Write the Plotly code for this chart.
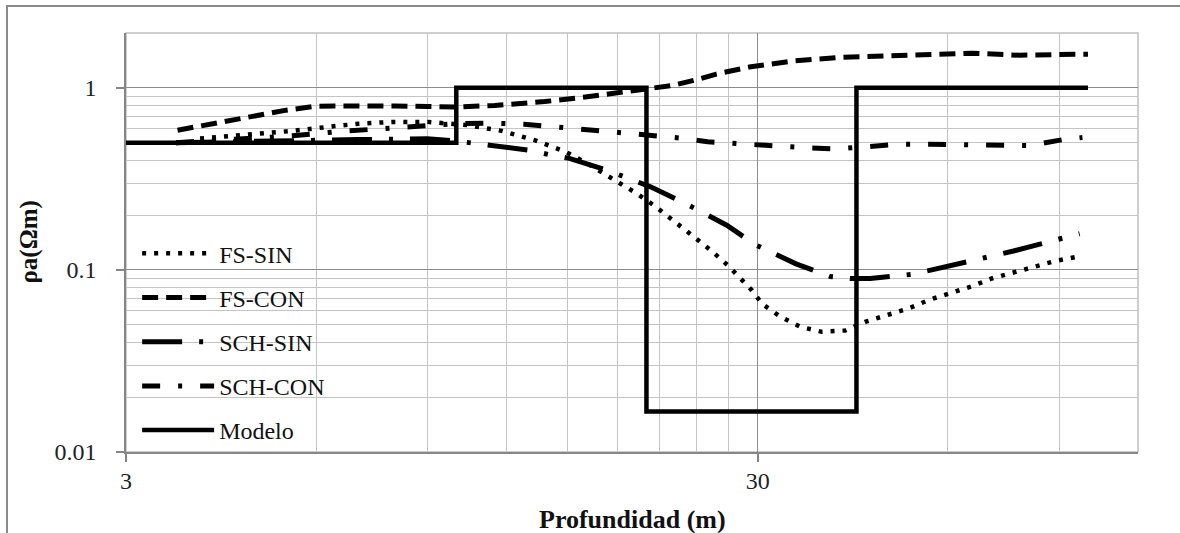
import plotly.graph_objects as go

# ---------------- data ----------------
fs_sin_x = [3.93, 4.66, 5.51, 6.26, 7.0, 7.93, 9.0, 10.4, 11.8, 13.3, 14.9, 16.0, 17.9, 19.3,
            20.7, 22.1, 23.6, 25.3, 26.9, 29.4, 30.5, 32.6, 35.1, 37.9, 41.3, 44.5, 48.0,
            52.0, 56.0, 60.6, 65.3, 70.4, 76.3, 82.6, 88.8, 97.3]
fs_sin_y = [0.527, 0.55, 0.58, 0.61, 0.635, 0.65, 0.65, 0.624, 0.58, 0.516, 0.445, 0.39, 0.31,
            0.263, 0.222, 0.187, 0.155, 0.128, 0.106, 0.077, 0.065, 0.0553, 0.0486, 0.0457,
            0.0465, 0.052, 0.0565, 0.0614, 0.0684, 0.0742, 0.081, 0.0897, 0.0964, 0.104,
            0.112, 0.119]

fs_con_x = [3.62, 4.0, 4.6, 5.38, 6.0, 7.0, 8.0, 9.0, 10.0, 11.5, 13.8, 16.0, 18.5, 20.0,
            22.0, 24.3, 25.8, 29.1, 33.9, 40.4, 50.2, 65.5, 77.8, 100.0]
fs_con_y = [0.585, 0.625, 0.679, 0.754, 0.793, 0.80, 0.795, 0.79, 0.785, 0.80, 0.84, 0.89,
            0.95, 0.98, 1.03, 1.12, 1.19, 1.30, 1.40, 1.47, 1.50, 1.55, 1.51, 1.53]

sch_sin_x = [3.6, 5.0, 6.0, 7.0, 8.0, 9.0, 10.0, 11.2, 13.0, 14.0, 15.1, 17.3, 20.3, 23.3,
             25.0, 26.8, 29.8, 32.5, 34.5, 39.1, 42.0, 45.2, 52.6, 56.6, 60.8, 70.6, 76.2,
             82.2, 94.9, 97.0]
sch_sin_y = [0.5, 0.505, 0.515, 0.52, 0.525, 0.525, 0.51, 0.484, 0.455, 0.43, 0.41, 0.353,
             0.286, 0.227, 0.2, 0.176, 0.137, 0.119, 0.108, 0.092, 0.0897, 0.0897, 0.0945,
             0.1, 0.106, 0.118, 0.127, 0.136, 0.155, 0.158]

sch_con_x = [3.6, 4.5, 5.5, 6.5, 7.3, 8.1, 9.0, 10.0, 11.4, 12.8, 14.4, 16.1, 18.0, 20.3,
             22.6, 25.0, 28.3, 31.6, 35.4, 39.8, 44.9, 50.5, 56.3, 63.5, 71.9, 81.0, 91.5,
             98.0]
sch_con_y = [0.5, 0.52, 0.545, 0.575, 0.59, 0.61, 0.625, 0.635, 0.64, 0.63, 0.61, 0.59,
             0.566, 0.545, 0.53, 0.505, 0.49, 0.477, 0.47, 0.462, 0.474, 0.49, 0.49, 0.488,
             0.48, 0.482, 0.52, 0.533]

modelo_x = [3, 10, 20, 43, 100]
modelo_y = [0.5, 1.0, 0.0167, 1.0, 1.0]

x_major = [3, 30]
x_major_text = ["3", "30"]
x_minor = [6, 9, 12, 15, 18, 21, 24, 27, 60, 90, 120]
y_major = [0.01, 0.1, 1]
y_major_text = ["0.01", "0.1", "1"]
y_minor = [0.02, 0.03, 0.04, 0.05, 0.06, 0.07, 0.08, 0.09,
           0.2, 0.3, 0.4, 0.5, 0.6, 0.7, 0.8, 0.9, 2]

# ---------------- figure ----------------
FONT = "Liberation Serif"
fig = go.Figure()

series = [
    ("FS-SIN", fs_sin_x, fs_sin_y, "4px,8px", 4.5, "linear"),
    ("FS-CON", fs_con_x, fs_con_y, "16px,8px", 5, "linear"),
    ("SCH-SIN", sch_sin_x, sch_sin_y, "40px,17px,4px,17px", 5, "linear"),
    ("SCH-CON", sch_con_x, sch_con_y, "18px,18px,4px,18px", 5, "linear"),
    ("Modelo", modelo_x, modelo_y, "solid", 4.5, "hv"),
]
for i, (name, xs, ys, dash, w, shape) in enumerate(series):
    fig.add_trace(go.Scatter(
        x=xs, y=ys, name=name, mode="lines", legendgroup=f"g{i}",
        line=dict(color="black", width=w, dash=dash, shape=shape),
    ))

grid_major = "#8c8c8c"
grid_minor = "#c4c4c4"

fig.update_xaxes(
    type="log", range=[0.47712125472, 2.07918124605],
    tickvals=x_major, ticktext=x_major_text,
    showgrid=True, gridcolor=grid_major, gridwidth=1,
    minor=dict(tickvals=x_minor, showgrid=True, gridcolor=grid_minor, gridwidth=1, ticks=""),
    showline=True, linecolor="#868686", linewidth=1.5,
    ticks="outside", ticklen=8, tickcolor="#868686", tickwidth=1.5,
    ticklabelstandoff=-2,
    tickfont=dict(family=FONT, size=24, color="#222"),
    zeroline=False,
)
fig.update_yaxes(
    type="log", range=[-2, 0.30103],
    tickvals=y_major, ticktext=y_major_text,
    showgrid=True, gridcolor=grid_major, gridwidth=1,
    minor=dict(tickvals=y_minor, showgrid=True, gridcolor=grid_minor, gridwidth=1, ticks=""),
    showline=True, linecolor="#868686", linewidth=1.5,
    ticks="outside", ticklen=8, tickcolor="#868686", tickwidth=1.5,
    ticklabelstandoff=15,
    tickfont=dict(family=FONT, size=24, color="#222"),
    zeroline=False,
)

fig.update_layout(
    width=1180, height=533,
    margin=dict(l=126, r=42, t=33, b=81),
    paper_bgcolor="white", plot_bgcolor="white",
    showlegend=True,
    legend=dict(
        x=0.011, y=0.527, xanchor="left", yanchor="top",
        bgcolor="rgba(0,0,0,0)", borderwidth=0,
        font=dict(family=FONT, size=24, color="#111"),
        itemwidth=72, tracegroupgap=10, traceorder="grouped",
    ),
    shapes=[
        dict(type="rect", xref="paper", yref="paper", x0=0, y0=0, x1=1, y1=1,
             line=dict(color="#bfbfbf", width=1.5), layer="below"),
        dict(type="rect", xref="paper", yref="paper", x0=-0.1176, y0=-0.4, x1=1.2, y1=1.0644,
             line=dict(color="#8a8a8a", width=2), layer="below"),
    ],
    annotations=[
        dict(text="<b>Profundidad (m)</b>", xref="paper", yref="paper", x=0.5, y=-0.162,
             showarrow=False, font=dict(family=FONT, size=26, color="#111"),
             xanchor="center", yanchor="middle"),
        dict(text="<b>ρa(Ωm)</b>", xref="paper", yref="paper", x=-0.0968, y=0.5,
             showarrow=False, textangle=-90, font=dict(family=FONT, size=25, color="#111"),
             xanchor="center", yanchor="middle"),
    ],
)

fig.write_html("out.html")
